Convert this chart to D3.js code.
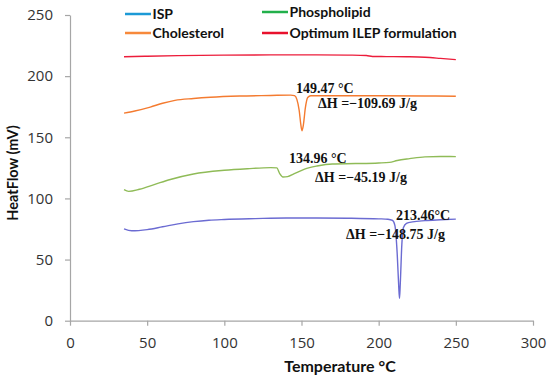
<!DOCTYPE html>
<html>
<head>
<meta charset="utf-8">
<script src="https://cdn.jsdelivr.net/npm/d3@7"></script>
<style>
  html, body { margin: 0; padding: 0; background: #fff; }
  svg { display: block; }
</style>
</head>
<body>
<svg id="chart" width="550" height="380"></svg>
<script>
// ---- data ----
const xTicks = [0, 50, 100, 150, 200, 250, 300];
const yTicks = [0, 50, 100, 150, 200, 250];

const seriesNames = ["ISP", "Phospholipid", "Cholesterol", "Optimum ILEP formulation"];

const ispTemp = [35, 40, 50, 60, 70, 80, 90, 100, 120, 140, 160, 180, 200, 206, 209, 210.5, 212, 213, 213.5, 214, 215, 216, 218, 222, 230, 240, 250];
const ispFlow = [75.1, 73.5, 74.5, 76.8, 79.2, 81, 82.2, 82.8, 83.5, 84, 84, 83.8, 83.3, 83, 82, 78, 55, 28, 18.3, 30, 62, 76, 79.5, 80.8, 81.8, 82.5, 83.1];

const phosTemp = [35, 38, 45, 55, 65, 80, 100, 115, 130, 134, 136, 138, 141, 145, 152, 160, 170, 185, 200, 207, 212, 220, 230, 240, 250];
const phosFlow = [107.2, 105.8, 107.5, 111.5, 115.5, 120, 123, 124.3, 125.2, 125, 120, 117.5, 117.8, 120, 124, 126.5, 128.2, 128.5, 129, 129.5, 131, 132.5, 134, 134.3, 134.2];

const cholTemp = [35, 42, 52, 60, 68, 80, 91, 110, 130, 143, 145.5, 147, 148.5, 149.5, 150.3, 151.2, 152.5, 154, 156, 170, 200, 230, 250];
const cholFlow = [169.8, 171.5, 174.7, 177.8, 180.2, 181.7, 182.7, 183.7, 184.2, 184.5, 184, 181, 172, 161, 155.4, 160, 174, 182.5, 184, 184, 184, 183.8, 183.5];

const ilepTemp = [35, 50, 70, 100, 130, 160, 180, 192, 196, 205, 220, 230, 240, 250];
const ilepFlow = [215.9, 216.3, 216.8, 217.2, 217.4, 217.4, 217.2, 216.9, 216.1, 216.0, 215.8, 215.4, 214.5, 213.5];

const annoPeak = ["149.47 °C", "134.96 °C", "213.46°C"];
const annoEnthalpy = ["ΔH =−109.69 J/g", "ΔH =−45.19 J/g", "ΔH =−148.75 J/g"];

// ---- styles ----
const lineColors = ["#6b6bd2", "#8fbb57", "#f47b30", "#ec1d3b"];
const legendColors = ["#1c9ad6", "#22b04b", "#f7893b", "#e8112d"];

const svg = d3.select("#chart");
const x = d3.scaleLinear().domain([0, 300]).range([70, 533]);
const y = d3.scaleLinear().domain([0, 250]).range([320.7, 15]);

const axisColor = "#a6a6a6";
const tickFont = "'Open Sans', sans-serif";

// x axis
const gx = svg.append("g").attr("transform", `translate(0,${y(0)})`)
  .call(d3.axisBottom(x).tickValues(xTicks).tickSize(5).tickSizeOuter(0).tickPadding(12));
// y axis
const gy = svg.append("g").attr("transform", `translate(${x(0)},0)`)
  .call(d3.axisLeft(y).tickValues(yTicks).tickSize(5).tickSizeOuter(0).tickPadding(12));

[gx, gy].forEach(g => {
  g.select(".domain").attr("stroke", axisColor).attr("stroke-width", 1.2);
  g.selectAll(".tick line").attr("stroke", axisColor).attr("stroke-width", 1.2);
  g.selectAll(".tick text").attr("fill", "#333").style("font-family", tickFont).style("font-size", "15px");
});

// series lines
const line = d3.line().x(d => x(d[0])).y(d => y(d[1])).curve(d3.curveMonotoneX);
const series = [
  d3.zip(ispTemp, ispFlow),
  d3.zip(phosTemp, phosFlow),
  d3.zip(cholTemp, cholFlow),
  d3.zip(ilepTemp, ilepFlow)
];
series.forEach((s, i) => {
  svg.append("path").datum(s).attr("d", line)
    .attr("fill", "none").attr("stroke", lineColors[i]).attr("stroke-width", 1.4)
    .attr("stroke-linejoin", "round");
});

// legend
const legendPos = [[125, 14], [262, 12], [125, 33], [262, 33]];
[0, 1, 2, 3].forEach(i => {
  const [lx, ly] = legendPos[i];
  svg.append("line").attr("x1", lx).attr("x2", lx + 26).attr("y1", ly).attr("y2", ly)
    .attr("stroke", legendColors[i]).attr("stroke-width", 2.5);
  svg.append("text").attr("x", lx + 27.5).attr("y", ly + 4.8)
    .text(seriesNames[i])
    .style("font-family", "Lato, sans-serif").style("font-weight", "bold").style("font-size", "14px")
    .attr("fill", "#111");
});

// annotations
const annoFont = "'Liberation Serif', 'Times New Roman', serif";
const annoPos = [[296, 93], [289, 163], [396, 220]];
const annoPos2 = [[318, 108], [315, 182], [346, 239]];
annoPeak.forEach((t, i) => {
  svg.append("text").attr("x", annoPos[i][0]).attr("y", annoPos[i][1]).text(t)
    .style("font-family", annoFont).style("font-weight", "bold").style("font-size", "14px").attr("fill", "#111");
});
annoEnthalpy.forEach((t, i) => {
  svg.append("text").attr("x", annoPos2[i][0]).attr("y", annoPos2[i][1]).text(t)
    .style("font-family", annoFont).style("font-weight", "bold").style("font-size", "14px").attr("fill", "#111");
});

// axis titles
svg.append("text").attr("x", 340).attr("y", 372).attr("text-anchor", "middle")
  .text("Temperature °C")
  .style("font-family", "Lato, sans-serif").style("font-weight", "bold").style("font-size", "16px").attr("fill", "#111");
svg.append("text").attr("transform", "translate(17.5,173) rotate(-90)").attr("text-anchor", "middle")
  .text("HeatFlow (mV)")
  .style("font-family", "Lato, sans-serif").style("font-weight", "bold").style("font-size", "14.5px").attr("fill", "#111");
</script>
</body>
</html>
